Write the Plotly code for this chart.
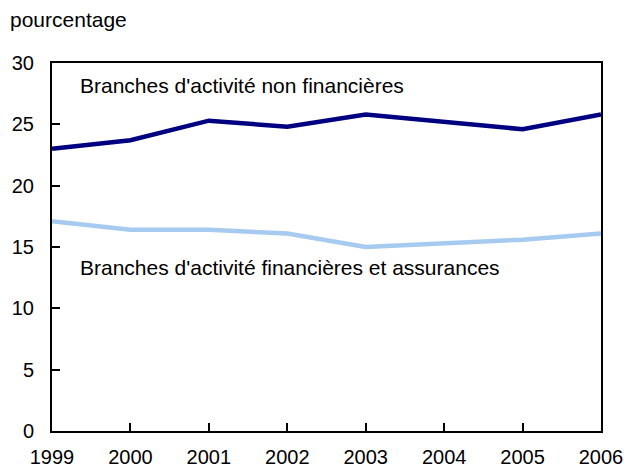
import plotly.graph_objects as go

years = [1999, 2000, 2001, 2002, 2003, 2004, 2005, 2006]
non_financieres = [23.0, 23.7, 25.3, 24.8, 25.8, 25.2, 24.6, 25.8]
financieres_assurances = [17.1, 16.4, 16.4, 16.1, 15.0, 15.3, 15.6, 16.1]
y_ticks = [0, 5, 10, 15, 20, 25, 30]

FONT = "Liberation Sans, Arial, sans-serif"

fig = go.Figure()
fig.add_trace(go.Scatter(
    x=years, y=non_financieres, mode="lines",
    line=dict(color="#000080", width=4.5), hoverinfo="skip",
))
fig.add_trace(go.Scatter(
    x=years, y=financieres_assurances, mode="lines",
    line=dict(color="#A6CAF0", width=4.5), hoverinfo="skip",
))

fig.add_annotation(
    x=0, xref="paper", xanchor="left", xshift=26,
    y=28.2, yref="y", yanchor="middle",
    text="Branches d'activité non financières", showarrow=False,
    font=dict(family=FONT, size=21, color="#000000"),
)
fig.add_annotation(
    x=0, xref="paper", xanchor="left", xshift=26,
    y=13.3, yref="y", yanchor="middle",
    text="Branches d'activité financières et assurances", showarrow=False,
    font=dict(family=FONT, size=21, color="#000000"),
)
fig.add_annotation(
    x=0, xref="paper", xanchor="left", xshift=-44,
    y=1, yref="paper", yanchor="bottom", yshift=30,
    text="pourcentage", showarrow=False,
    font=dict(family=FONT, size=21, color="#000000"),
)

axis_common = dict(
    showline=True, linecolor="#000000", linewidth=2, mirror=True,
    ticks="inside", ticklen=8, tickwidth=2, tickcolor="#000000",
    showgrid=False, zeroline=False, automargin=False,
    tickfont=dict(family=FONT, size=20, color="#000000"),
)

fig.update_layout(
    width=624, height=469,
    margin=dict(l=52, r=23, t=63, b=38),
    paper_bgcolor="#FFFFFF", plot_bgcolor="#FFFFFF",
    showlegend=False,
    xaxis=dict(range=[1999, 2006], tickvals=years, ticktext=[str(y) for y in years],
               ticklabelstandoff=7, **axis_common),
    yaxis=dict(range=[0, 30], tickvals=y_ticks, ticklabelstandoff=12, **axis_common),
)

fig.write_html("out.html")
